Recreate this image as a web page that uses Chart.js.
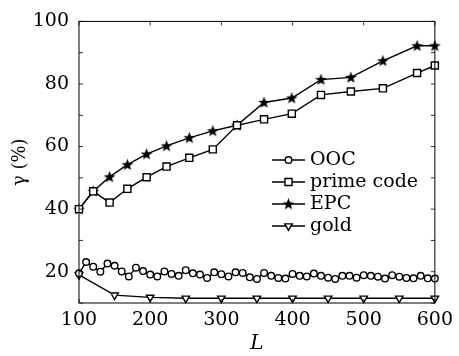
<!DOCTYPE html>
<html>
<head>
<meta charset="utf-8">
<script src="https://cdn.jsdelivr.net/npm/chart.js@4"></script>
<style>
  html, body { margin: 0; padding: 0; background: #fff; }
  #wrap { width: 459px; height: 356px; }
</style>
</head>
<body>
<div id="wrap"><canvas id="chart" width="459" height="356"></canvas></div>
<script>
// L values for each series
const L_OOC = [100, 110, 120, 130, 140, 150, 160, 170, 180, 190,
  200, 210, 220, 230, 240, 250, 260, 270, 280, 290,
  300, 310, 320, 330, 340, 350, 360, 370, 380, 390,
  400, 410, 420, 430, 440, 450, 460, 470, 480, 490,
  500, 510, 520, 530, 540, 550, 560, 570, 580, 590, 600];
const L_CODE = [100, 120, 143, 168, 195, 223, 255, 288, 322, 360, 399, 440, 482, 527, 575, 600];
const L_GOLD = [100, 150, 200, 250, 300, 350, 400, 450, 500, 550, 600];

// gamma (%) values
const ooc = [19.5, 23.1, 21.6, 20.0, 22.6, 21.9, 20.1, 18.5, 21.3, 20.2,
  19.1, 18.5, 20.1, 19.3, 18.7, 20.5, 19.5, 19.1, 18.0, 19.8,
  19.2, 18.5, 19.8, 19.6, 18.2, 17.7, 19.6, 18.7, 18.0, 17.8,
  19.3, 18.7, 18.5, 19.4, 18.7, 18.1, 17.7, 18.7, 18.7, 18.1,
  18.9, 18.7, 18.4, 17.8, 18.9, 18.4, 18.0, 17.9, 18.7, 17.9, 17.8];
const primeCode = [40, 45.7, 42.1, 46.5, 50.2, 53.6, 56.4, 59.1, 66.8, 68.7, 70.5, 76.5, 77.6, 78.6, 83.5, 85.9];
const epc = [40, 45.7, 50.3, 54.2, 57.6, 60.2, 62.8, 65.0, 66.8, 74.1, 75.5, 81.4, 82.1, 87.4, 92.2, 92.2];
const gold = [19.0, 12.5, 11.8, 11.5, 11.5, 11.5, 11.5, 11.5, 11.5, 11.5, 11.5];

const seriesNames = ["OOC", "prime code", "EPC", "gold"];
const yTicks = [10, 20, 30, 40, 50, 60, 70, 80, 90, 100];
const xTicks = [100, 200, 300, 400, 500, 600];

const FONT = "'DejaVu Serif', serif";

// filled five point star for EPC
function makeStar() {
  const c = document.createElement("canvas");
  c.width = 13; c.height = 13;
  const g = c.getContext("2d");
  g.beginPath();
  for (let i = 0; i < 10; i++) {
    const r = i % 2 === 0 ? 6.2 : 2.6;
    const a = -Math.PI / 2 + i * Math.PI / 5;
    const px = 6.5 + r * Math.cos(a), py = 6.8 + r * Math.sin(a);
    if (i === 0) g.moveTo(px, py); else g.lineTo(px, py);
  }
  g.closePath();
  g.fillStyle = "#000";
  g.fill();
  return c;
}
const star = makeStar();

function pts(xs, ys) {
  return xs.map((x, i) => ({ x: x, y: ys[i] }));
}

const common = {
  borderColor: "#000",
  borderWidth: 1.4,
  pointBorderColor: "#000",
  pointBackgroundColor: "#fff",
  pointBorderWidth: 1.4,
  tension: 0,
  clip: false
};

const datasets = [
  Object.assign({}, common, { label: seriesNames[0], data: pts(L_OOC, ooc), pointStyle: "circle", pointRadius: 3.3 }),
  Object.assign({}, common, { label: seriesNames[1], data: pts(L_CODE, primeCode), pointStyle: "rect", pointRadius: 5 }),
  Object.assign({}, common, { label: seriesNames[2], data: pts(L_CODE, epc), pointStyle: star, pointRadius: 6 }),
  Object.assign({}, common, { label: seriesNames[3], data: pts(L_GOLD, gold), pointStyle: "triangle", pointRotation: 180, pointRadius: 4.3 })
];

// box around the plot + inward ticks on all four sides
const frame = {
  id: "frame",
  afterDatasetsDraw(chart) {
    const { ctx, chartArea: a, scales } = chart;
    ctx.save();
    ctx.strokeStyle = "#000";
    ctx.lineWidth = 1;
    ctx.strokeRect(a.left, a.top, a.right - a.left, a.bottom - a.top);
    ctx.lineWidth = 0.8;
    ctx.beginPath();
    yTicks.forEach(v => {
      const y = scales.y.getPixelForValue(v);
      ctx.moveTo(a.left, y); ctx.lineTo(a.left + 4, y);
      ctx.moveTo(a.right, y); ctx.lineTo(a.right - 4, y);
    });
    xTicks.forEach(v => {
      const x = scales.x.getPixelForValue(v);
      ctx.moveTo(x, a.top); ctx.lineTo(x, a.top + 4);
      ctx.moveTo(x, a.bottom); ctx.lineTo(x, a.bottom - 4);
    });
    ctx.stroke();
    ctx.restore();
  }
};

// legend drawn inside the plot area
const innerLegend = {
  id: "innerLegend",
  afterDraw(chart) {
    const ctx = chart.ctx;
    const x0 = 272, x1 = 305, y0 = 160, dy = 22;
    ctx.save();
    chart.data.datasets.forEach((ds, i) => {
      const y = y0 + i * dy;
      ctx.strokeStyle = "#000";
      ctx.lineWidth = 1.4;
      ctx.beginPath();
      ctx.moveTo(x0, y); ctx.lineTo(x1, y);
      ctx.stroke();
      ctx.fillStyle = "#fff";
      Chart.helpers.drawPoint(ctx, {
        pointStyle: ds.pointStyle,
        radius: ds.pointRadius,
        rotation: ds.pointRotation || 0,
        borderWidth: 1.4
      }, (x0 + x1) / 2, y);
      ctx.fillStyle = "#000";
      ctx.font = "19px " + FONT;
      ctx.textBaseline = "middle";
      ctx.textAlign = "left";
      ctx.fillText(ds.label, x1 + 5, y);
    });
    ctx.restore();
  }
};

new Chart(document.getElementById("chart"), {
  type: "line",
  data: { datasets: datasets },
  options: {
    responsive: false,
    animation: false,
    layout: { padding: { left: 0, right: 16, top: 16, bottom: 0 } },
    plugins: {
      legend: { display: false },
      tooltip: { enabled: false }
    },
    scales: {
      x: {
        type: "linear",
        min: 100,
        max: 600,
        grid: { display: false, drawTicks: false },
        border: { display: false },
        afterFit: s => { s.height = 53; },
        ticks: {
          stepSize: 100,
          color: "#000",
          padding: 6,
          maxRotation: 0,
          font: { family: FONT, size: 19 }
        },
        title: {
          display: true,
          text: "L",
          color: "#000",
          padding: { top: 0, bottom: 0 },
          font: { family: FONT, size: 20, style: "italic" }
        }
      },
      y: {
        min: 10,
        max: 100,
        grid: { display: false, drawTicks: false },
        border: { display: false },
        afterFit: s => { s.width = 79; },
        ticks: {
          stepSize: 10,
          color: "#000",
          padding: 10,
          font: { family: FONT, size: 19 },
          callback: v => (v % 20 === 0 ? v : "")
        },
        title: {
          display: true,
          text: "γ (%)",
          color: "#000",
          padding: { top: 10, bottom: 0 },
          font: { family: FONT, size: 18 }
        }
      }
    }
  },
  plugins: [frame, innerLegend]
});
</script>
</body>
</html>
